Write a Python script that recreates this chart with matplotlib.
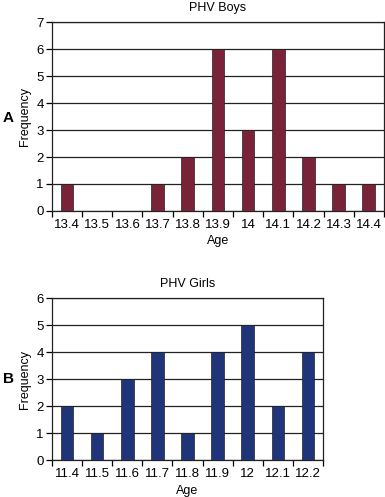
import matplotlib
matplotlib.use("Agg")
import matplotlib.pyplot as plt
import numpy as np

plt.rcParams['font.family'] = ['Liberation Sans', 'DejaVu Sans']

boys_ages = ["13.4", "13.5", "13.6", "13.7", "13.8", "13.9", "14", "14.1", "14.2", "14.3", "14.4"]
boys_freq = [1, 0, 0, 1, 2, 6, 3, 6, 2, 1, 1]
girls_ages = ["11.4", "11.5", "11.6", "11.7", "11.8", "11.9", "12", "12.1", "12.2"]
girls_freq = [2, 1, 3, 4, 1, 4, 5, 2, 4]

boys_color = "#7A2238"
girls_color = "#1F3479"

fig = plt.figure(figsize=(3.85, 4.97), dpi=100)

def draw(ax, cats, vals, color, ymax, title):
    x = np.arange(len(cats))
    ax.bar(x, vals, width=0.42, color=color, edgecolor="#222222", linewidth=0.5, zorder=3)
    ax.set_xlim(-0.5, len(cats) - 0.5)
    ax.set_ylim(0, ymax)
    ax.set_yticks(range(ymax + 1))
    ax.yaxis.grid(True, color="#222222", linewidth=0.9, zorder=0)
    ax.set_axisbelow(True)
    ax.set_xticks(x)
    ax.set_xticklabels(cats, fontsize=9.5)
    ax.tick_params(axis='x', length=0, pad=6)
    ax.set_xticks(np.arange(len(cats) + 1) - 0.5, minor=True)
    ax.tick_params(axis='x', which='minor', length=4, width=0.9, direction='out')
    ax.tick_params(axis='y', labelsize=9.5, length=4, width=0.9, direction='out', pad=2)
    for s in ax.spines.values():
        s.set_color("#222222")
        s.set_linewidth(0.9)
    ax.set_xlabel("Age", fontsize=9, labelpad=3)
    ax.set_ylabel("Frequency", fontsize=9, labelpad=4)
    ax.set_title(title, fontsize=9, pad=8)

ax1 = fig.add_axes([0.135, 0.5755, 0.862, 0.380])
draw(ax1, boys_ages, boys_freq, boys_color, 7, "PHV Boys")
ax2 = fig.add_axes([0.135, 0.0744, 0.704, 0.326])
draw(ax2, girls_ages, girls_freq, girls_color, 6, "PHV Girls")

fig.text(3/385, 1 - 118/497, "A", fontsize=11, fontweight='bold', ha='left', va='center')
fig.text(3/385, 1 - 379/497, "B", fontsize=11, fontweight='bold', ha='left', va='center')

fig.savefig("out.png", dpi=100)
